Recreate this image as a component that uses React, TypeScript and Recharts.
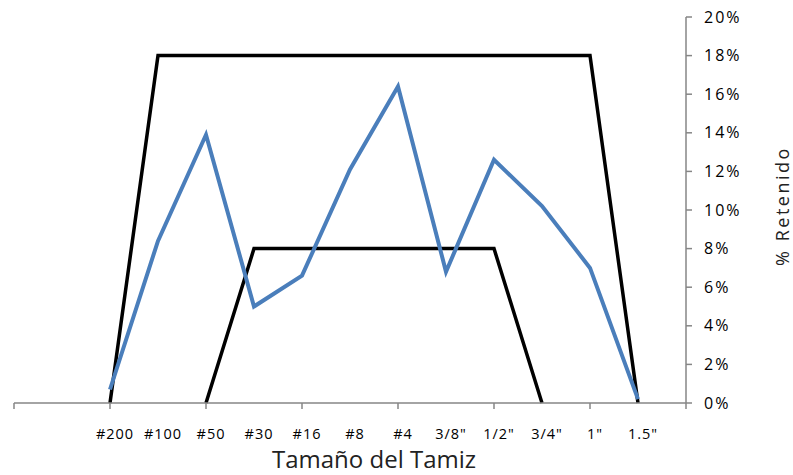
import { LineChart, Line, XAxis, YAxis } from "recharts";

const sieves = ["", "", "#200", "#100", "#50", "#30", "#16", "#8", "#4", '3/8"', '1/2"', '3/4"', '1"', '1.5"', ""];
const retained = [null, null, 0.7, 8.4, 13.9, 5.0, 6.6, 12.1, 16.4, 6.8, 12.6, 10.2, 7.0, 0.2, null];
const upperLimit = [null, null, 0, 18, 18, 18, 18, 18, 18, 18, 18, 18, 18, 0, null];
const lowerLimit = [null, null, null, null, 0, 8, 8, 8, 8, 8, 8, 0, null, null, null];
const percentTicks = [0, 2, 4, 6, 8, 10, 12, 14, 16, 18, 20];

const FONT = "'Open Sans', sans-serif";
const AXIS_GRAY = "#868686";

const data = sieves.map((s, i) => ({
    idx: i,
    sieve: s,
    retained: retained[i],
    upper: upperLimit[i],
    lower: lowerLimit[i],
}));

// label under every point, tick mark only every other category (like the excel chart)
const SieveTick = (props: any) => {
    const { x, y, payload } = props;
    const i = Number(payload.value);
    return (
        <g>
            {i % 2 === 0 && <line x1={x} x2={x} y1={y} y2={y + 6} stroke={AXIS_GRAY} strokeWidth={1.5} />}
            <text x={x + 5} y={y + 36} textAnchor="middle" fontSize={14.5} letterSpacing={1}
                fontFamily={FONT} fill="#000">
                {sieves[i]}
            </text>
        </g>
    );
};

const App = () => {
    return (
        <div style={{ position: "absolute", left: 0, top: 0, width: 793, height: 475, background: "#fff" }}>
            <LineChart width={793} height={475} data={data} margin={{ top: 17, right: 0, bottom: 0, left: 14 }}>
                <XAxis
                    dataKey="idx"
                    type="category"
                    interval={0}
                    height={72}
                    tickSize={0}
                    tickMargin={0}
                    tickLine={false}
                    axisLine={{ stroke: AXIS_GRAY, strokeWidth: 1.5 }}
                    tick={<SieveTick />}
                    label={{
                        content: (p: any) => {
                            const vb = p.viewBox;
                            return (
                                <text x={vb.x + vb.width / 2 + 24} y={vb.y + 65} textAnchor="middle"
                                    fontSize={24} fontFamily={FONT} fill="#222">
                                    Tamaño del Tamiz
                                </text>
                            );
                        },
                    }}
                />
                <YAxis
                    orientation="right"
                    width={107}
                    domain={[0, 20]}
                    ticks={percentTicks}
                    tickFormatter={(v) => `${v}%`}
                    tickSize={6}
                    tickMargin={12}
                    axisLine={{ stroke: AXIS_GRAY, strokeWidth: 1.5 }}
                    tickLine={{ stroke: AXIS_GRAY, strokeWidth: 1.5 }}
                    tick={{ fontSize: 16, fontFamily: FONT, fill: "#000", letterSpacing: 2 }}
                    label={{
                        content: (p: any) => {
                            const vb = p.viewBox;
                            const cx = vb.x + vb.width - 11;
                            const cy = vb.y + vb.height / 2 - 4;
                            return (
                                <text x={cx} y={cy} transform={`rotate(-90 ${cx} ${cy})`} textAnchor="middle"
                                    dominantBaseline="central" fontSize={18} letterSpacing={2.5}
                                    fontFamily={FONT} fill="#222">
                                    % Retenido
                                </text>
                            );
                        },
                    }}
                />
                <Line dataKey="upper" stroke="#000" strokeWidth={3.5} dot={false} isAnimationActive={false} />
                <Line dataKey="lower" stroke="#000" strokeWidth={3.5} dot={false} isAnimationActive={false} />
                <Line dataKey="retained" stroke="#4A7EBB" strokeWidth={4} dot={false} isAnimationActive={false} />
            </LineChart>
        </div>
    );
};

export default App;
